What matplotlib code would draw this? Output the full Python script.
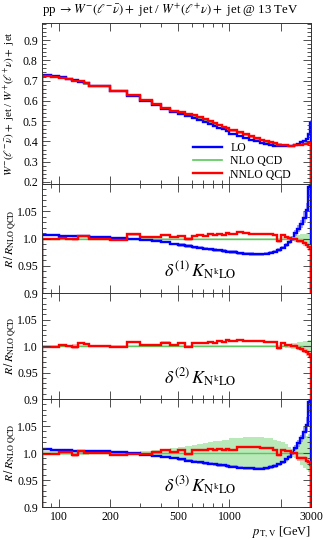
import numpy as np
import matplotlib
matplotlib.use('Agg')
import matplotlib.pyplot as plt
from matplotlib.ticker import FixedLocator, FixedFormatter, MultipleLocator, NullFormatter
from matplotlib.lines import Line2D

plt.rcParams['font.family'] = ['Liberation Serif', 'DejaVu Serif']
plt.rcParams['mathtext.fontset'] = 'stix'

# bin edges in pT [GeV]
edges = [80, 90, 100, 110, 120, 130, 140, 150, 200, 250, 300, 350, 400, 450, 500,
         550, 600, 650, 700, 750, 800, 850, 900, 950, 1000, 1100, 1200, 1300, 1400,
         1500, 1600, 1700, 1800, 1900, 2000, 2100, 2200, 2300, 2400, 2500, 2600,
         2700, 2800, 2900, 2950, 3000]

# W-/W+ ratio at NLO QCD
nlo = [0.724, 0.718, 0.713, 0.706, 0.699, 0.692, 0.685, 0.672, 0.648, 0.623, 0.603,
       0.582, 0.563, 0.549, 0.543, 0.535, 0.526, 0.516, 0.506, 0.497, 0.488, 0.479,
       0.470, 0.461, 0.450, 0.440, 0.430, 0.421, 0.413, 0.405, 0.399, 0.394, 0.389,
       0.385, 0.382, 0.380, 0.379, 0.379, 0.380, 0.382, 0.385, 0.389, 0.393, 0.397,
       0.399]

# LO / NLO
lo_r = [1.0065, 1.006, 1.0055, 1.005, 1.0045, 1.004, 1.004, 1.003, 1.001, 0.9995,
        0.997, 0.995, 0.993, 0.990, 0.988, 0.986, 0.984, 0.983, 0.981, 0.980, 0.979,
        0.978, 0.977, 0.976, 0.975, 0.973, 0.972, 0.9715, 0.971, 0.971, 0.972, 0.974,
        0.976, 0.979, 0.983, 0.988, 0.993, 1.000, 1.010, 1.018, 1.027, 1.038, 1.052,
        1.095, 1.230]
lo_err = [0.0015, 0.0015, 0.0015, 0.0015, 0.0015, 0.0015, 0.0015, 0.0015, 0.0015,
          0.0015, 0.002, 0.002, 0.002, 0.002, 0.003, 0.003, 0.003, 0.003, 0.003,
          0.003, 0.003, 0.003, 0.003, 0.003, 0.003, 0.003, 0.003, 0.003, 0.003,
          0.003, 0.003, 0.003, 0.003, 0.003, 0.003, 0.003, 0.003, 0.004, 0.005,
          0.006, 0.007, 0.010, 0.014, 0.020, 0.030]

# NNLO / NLO (panels 1 and 2)
nnlo_r = [0.9985, 0.999, 1.0015, 0.9995, 0.999, 1.0055, 1.004, 1.000, 0.998, 1.0075,
          1.002, 1.002, 1.0065, 1.002, 1.005, 0.999, 1.005, 1.006, 1.005, 1.008,
          1.006, 1.009, 1.007, 1.011, 1.009, 1.012, 1.010, 1.009, 1.009, 1.009,
          1.008, 1.008, 1.007, 0.996, 1.006, 1.002, 1.001, 1.000, 1.000, 0.996,
          0.995, 0.991, 0.988, 0.984, 0.980]
nnlo_err = [0.0015, 0.0015, 0.0015, 0.0015, 0.004, 0.0015, 0.0015, 0.0015, 0.0015,
            0.002, 0.0015, 0.0015, 0.002, 0.0015, 0.0015, 0.003, 0.0015, 0.0015,
            0.0015, 0.0015, 0.0015, 0.0015, 0.0015, 0.0015, 0.0015, 0.0015, 0.0015,
            0.0015, 0.0015, 0.0015, 0.0015, 0.0015, 0.0015, 0.004, 0.002, 0.002,
            0.002, 0.002, 0.003, 0.004, 0.004, 0.005, 0.006, 0.007, 0.008]

# NNLO / NLO (panel 3)
nnlo_r3 = [0.9976, 0.9988, 1.001, 1.001, 0.996, 1.004, 1.0006, 1.000, 0.996, 0.998,
           0.999, 1.001, 1.0055, 1.001, 1.0055, 0.9976, 1.0055, 1.006, 1.006, 1.007,
           1.006, 1.007, 1.006, 1.007, 1.006, 1.0116, 1.0116, 1.011, 1.0116, 1.0085,
           1.0085, 1.0085, 1.006, 0.996, 1.0055, 1.003, 1.003, 1.000, 1.000, 0.990,
           0.990, 0.990, 0.986, 0.984, 0.977]

# NLO uncertainty bands
delta1 = [0.0015] * 34 + [0.002, 0.003, 0.004, 0.005, 0.006, 0.007, 0.008, 0.009,
                          0.010, 0.011, 0.012]
delta3 = [0.004, 0.004, 0.004, 0.004, 0.004, 0.003, 0.003, 0.002, 0.002, 0.002,
          0.003, 0.005, 0.007, 0.009, 0.011, 0.013, 0.015, 0.017, 0.019, 0.020,
          0.022, 0.023, 0.024, 0.025, 0.027, 0.028, 0.029, 0.030, 0.030, 0.029,
          0.028, 0.027, 0.025, 0.023, 0.020, 0.016, 0.012, 0.008, 0.010, 0.015,
          0.022, 0.028, 0.032, 0.036, 0.040]

labels = ['LO', 'NLO QCD', 'NNLO QCD']
c_lo, c_nlo, c_nnlo = '#0000ff', '#5ac85a', '#ff0000'
b_lo, b_nlo, b_nnlo = '#8c8cff', '#a8e4a8', '#ffa0a0'

edges = np.array(edges)
nlo = np.array(nlo)
lo_r, lo_err = np.array(lo_r), np.array(lo_err)
nnlo_r, nnlo_err = np.array(nnlo_r), np.array(nnlo_err)
nnlo_r3 = np.array(nnlo_r3)
delta1, delta3 = np.array(delta1), np.array(delta3)

fig = plt.figure(figsize=(3.24, 5.40), dpi=100)
L, W = 42 / 324, 269 / 324
ax0 = fig.add_axes([L, 1 - 184 / 540, W, 161 / 540])
ax1 = fig.add_axes([L, 1 - 293 / 540, W, 109 / 540])
ax2 = fig.add_axes([L, 1 - 399 / 540, W, 106 / 540])
ax3 = fig.add_axes([L, 1 - 507 / 540, W, 108 / 540])


def band(ax, c, e, color):
    ax.stairs(c + e, edges, baseline=c - e, fill=True, color=color, lw=0, alpha=0.8)


# top panel
lo = nlo * lo_r
nnlo = nlo * nnlo_r
band(ax0, nlo, nlo * delta1, b_nlo)
band(ax0, lo, lo * lo_err, b_lo)
band(ax0, nnlo, nnlo * nnlo_err, b_nnlo)
ax0.stairs(nlo, edges, color=c_nlo, lw=1.2)
ax0.stairs(lo, edges, color=c_lo, lw=1.7)
ax0.stairs(nnlo, edges, color=c_nnlo, lw=1.7)
ax0.set_ylim(0.19, 0.984)
ax0.yaxis.set_major_locator(MultipleLocator(0.1))
ax0.yaxis.set_minor_locator(MultipleLocator(0.02))
ax0.set_ylabel(r'$W^{-}(\ell^{-}\bar{\nu})+$ jet / $W^{+}(\ell^{+}\nu)+$ jet', fontsize=8)
handles = [Line2D([], [], color=c_lo, lw=1.7), Line2D([], [], color=c_nlo, lw=1.2),
           Line2D([], [], color=c_nnlo, lw=1.7)]
ax0.legend(handles, labels, loc='lower left', bbox_to_anchor=(0.52, -0.045), frameon=False,
           fontsize=8.5, handlelength=2.5, labelspacing=0.12, handletextpad=0.7)

# ratio panels
one = np.ones_like(nlo)
panels = [(ax1, delta1, True, nnlo_r, r'$\delta^{(1)}\,K_{\mathrm{N^kLO}}$'),
          (ax2, delta1, False, nnlo_r, r'$\delta^{(2)}\,K_{\mathrm{N^kLO}}$'),
          (ax3, delta3, True, nnlo_r3, r'$\delta^{(3)}\,K_{\mathrm{N^kLO}}$')]
for ax, dl, show_lo, rr, txt in panels:
    band(ax, one, dl, b_nlo)
    ax.stairs(one, edges, color=c_nlo, lw=1.0)
    if show_lo:
        band(ax, lo_r, lo_err, b_lo)
        ax.stairs(lo_r, edges, color=c_lo, lw=1.7)
    band(ax, rr, nnlo_err, b_nnlo)
    ax.stairs(rr, edges, color=c_nnlo, lw=1.7)
    ax.set_ylim(0.9, 1.1)
    ax.yaxis.set_major_locator(FixedLocator([0.9, 0.95, 1.0, 1.05]))
    ax.yaxis.set_major_formatter(FixedFormatter(['0.9', '0.95', '1.0', '1.05']))
    ax.yaxis.set_minor_locator(MultipleLocator(0.01))
    ax.set_ylabel(r'$R\,/\,R_{\mathrm{NLO\ QCD}}$', fontsize=8.5)
    ax.text(0.59, 0.2, txt, transform=ax.transAxes, ha='center', va='center', fontsize=13)

for ax in [ax0, ax1, ax2, ax3]:
    ax.set_xscale('log')
    ax.set_xlim(80, 3000)
    ax.xaxis.set_major_locator(FixedLocator([100, 200, 500, 1000, 2000, 3000]))
    ax.xaxis.set_minor_locator(FixedLocator([90, 300, 400, 600, 700, 800, 900]))
    ax.xaxis.set_minor_formatter(NullFormatter())
    if ax is ax3:
        ax.xaxis.set_major_formatter(FixedFormatter(['100', '200', '500', '1000', '', '3000']))
    else:
        ax.xaxis.set_major_formatter(NullFormatter())
    ax.tick_params(which='both', direction='in', top=True, right=True, labelsize=8.5,
                   color='#333333', width=0.6, pad=3)
    ax.tick_params(which='major', length=6)
    ax.tick_params(which='minor', length=3)
    for s in ax.spines.values():
        s.set_color('#333333')
        s.set_linewidth(0.7)
    ax.yaxis.set_label_coords(-0.09, 0.5)

ax3.set_xlabel(r'$p_{\mathrm{T,V}}$ [GeV]', fontsize=9, loc='right', labelpad=1)

fig.text(L, 1 - 10 / 540,
         r'pp $\rightarrow W^{-}(\ell^{-}\bar{\nu})+$ jet / $W^{+}(\ell^{+}\nu)+$ jet @ 13 TeV',
         fontsize=9.3, ha='left', va='center')

fig.savefig('out.png', dpi=100)
